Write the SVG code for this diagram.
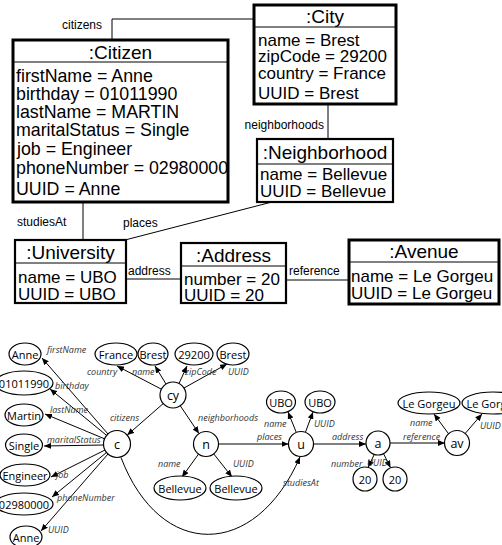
<svg xmlns="http://www.w3.org/2000/svg" width="502" height="545" viewBox="0 0 502 545">
<defs>
<style>
.box{fill:#fff;stroke:#000}
.thick{stroke-width:3}
.thin{stroke-width:2.2}
.sep{stroke:#000;stroke-width:1}
.t{font-family:"Liberation Sans",Arial,sans-serif;font-size:17px;fill:#000}
.tc{font-family:"Liberation Sans",Arial,sans-serif;font-size:17.8px;fill:#000}
.ti{font-family:"Liberation Sans",Arial,sans-serif;font-size:19px;fill:#000;text-anchor:middle}
.cl{font-family:"Liberation Sans",Arial,sans-serif;font-size:12px;fill:#000}
.conn{stroke:#000;stroke-width:1;fill:none}
.edge{stroke:#000;stroke-width:1;fill:none;marker-end:url(#arr)}
.node{fill:#fff;stroke:#000;stroke-width:1.2}
.val{fill:#fff;stroke:#000;stroke-width:1.2}
.nt{font-family:"Open Sans","Noto Sans",sans-serif;font-size:11px;fill:#000;text-anchor:middle;dominant-baseline:central}
.ct{font-family:"Open Sans","Noto Sans",sans-serif;font-size:12.5px;fill:#000;text-anchor:middle;dominant-baseline:central}
.el{font-family:"Open Sans","Noto Sans",sans-serif;font-size:9px;font-style:italic;fill:#333}
</style>
<marker id="arr" markerUnits="userSpaceOnUse" markerWidth="7" markerHeight="6" refX="7" refY="3" orient="auto">
<path d="M0,0 L7,3 L0,6 z" fill="#000"/>
</marker>
</defs>
<rect width="502" height="545" fill="#fff"/>

<g id="uml-connectors">
<polyline class="conn" points="254,19 112,19 112,40"/>
<text class="cl" x="62" y="29">citizens</text>
<line class="conn" x1="328" y1="104" x2="328" y2="139"/>
<text class="cl" x="324" y="129" text-anchor="end">neighborhoods</text>
<line class="conn" x1="83" y1="202" x2="83" y2="240"/>
<text class="cl" x="17" y="226">studiesAt</text>
<line class="conn" x1="125" y1="240" x2="272" y2="202"/>
<text class="cl" x="123" y="227">places</text>
<line class="conn" x1="126" y1="279" x2="181" y2="279"/>
<text class="cl" x="128" y="275">address</text>
<line class="conn" x1="286" y1="280" x2="349" y2="280"/>
<text class="cl" x="289" y="275">reference</text>
</g>

<g id="citizen">
<rect class="box thick" x="13" y="40" width="215" height="162"/>
<line class="sep" x1="13" y1="62" x2="228" y2="62"/>
<text class="ti" x="120.5" y="59">:Citizen</text>
<text class="tc" x="16" y="82">firstName = Anne</text>
<text class="tc" x="16" y="100">birthday = 01011990</text>
<text class="tc" x="16" y="118">lastName = MARTIN</text>
<text class="tc" x="16" y="136">maritalStatus = Single</text>
<text class="tc" x="17" y="155">job = Engineer</text>
<text class="tc" x="16" y="174">phoneNumber = 02980000</text>
<text class="tc" x="16" y="195">UUID = Anne</text>
</g>

<g id="city">
<rect class="box thick" x="254" y="5" width="142" height="99"/>
<line class="sep" x1="254" y1="27" x2="396" y2="27"/>
<text class="ti" x="325" y="23">:City</text>
<text class="t" x="258" y="45.5">name = Brest</text>
<text class="t" x="258" y="61.5">zipCode = 29200</text>
<text class="t" x="258" y="79">country = France</text>
<text class="t" x="258" y="99">UUID = Brest</text>
</g>

<g id="neighborhood">
<rect class="box thin" x="257" y="139" width="136" height="63"/>
<line class="sep" x1="257" y1="164" x2="393" y2="164"/>
<text class="ti" x="325" y="159">:Neighborhood</text>
<text class="t" x="260" y="180">name = Bellevue</text>
<text class="t" x="260" y="197">UUID = Bellevue</text>
</g>

<g id="university">
<rect class="box thin" x="15" y="240" width="111" height="63"/>
<line class="sep" x1="15" y1="263" x2="126" y2="263"/>
<text class="ti" x="70.5" y="259">:University</text>
<text class="t" x="18" y="283">name = UBO</text>
<text class="t" x="18" y="300">UUID = UBO</text>
</g>

<g id="address">
<rect class="box thin" x="181" y="243" width="105" height="60"/>
<line class="sep" x1="181" y1="266" x2="286" y2="266"/>
<text class="ti" x="233.5" y="262">:Address</text>
<text class="t" x="184" y="285">number = 20</text>
<text class="t" x="184" y="301">UUID = 20</text>
</g>

<g id="avenue">
<rect class="box thick" x="349" y="240" width="150" height="64"/>
<line class="sep" x1="349" y1="262" x2="499" y2="262"/>
<text class="ti" x="424" y="258">:Avenue</text>
<text class="t" x="351" y="282">name = Le Gorgeu</text>
<text class="t" x="351" y="299">UUID = Le Gorgeu</text>
</g>

<g id="graph-edges">
<line class="edge" x1="108" y1="434" x2="42" y2="358"/>
<line class="edge" x1="106.6" y1="435.4" x2="50" y2="389"/>
<line class="edge" x1="104.5" y1="438.8" x2="45" y2="414"/>
<line class="edge" x1="103.5" y1="445" x2="44" y2="446"/>
<line class="edge" x1="105" y1="450" x2="51" y2="477"/>
<line class="edge" x1="106.5" y1="452.5" x2="52" y2="497"/>
<line class="edge" x1="108" y1="454" x2="41" y2="531"/>
<line class="edge" x1="161.4" y1="389.2" x2="117" y2="366"/>
<line class="edge" x1="166" y1="384" x2="155" y2="366"/>
<line class="edge" x1="179" y1="383.5" x2="187" y2="366"/>
<line class="edge" x1="184" y1="388" x2="227" y2="364"/>
<line class="edge" x1="163.2" y1="403.6" x2="127.2" y2="435.1"/>
<line class="edge" x1="180.3" y1="405.8" x2="199" y2="433.6"/>
<line class="edge" x1="198.6" y1="454" x2="182" y2="477"/>
<line class="edge" x1="213.7" y1="453.8" x2="232" y2="477"/>
<line class="edge" x1="218.5" y1="444" x2="288.5" y2="444"/>
<path class="edge" d="M121,457.5 C160,560 255,560 300,457"/>
<line class="edge" x1="296.3" y1="432.4" x2="288" y2="412"/>
<line class="edge" x1="305.4" y1="432.3" x2="313" y2="412"/>
<line class="edge" x1="313.5" y1="444" x2="366" y2="444"/>
<line class="edge" x1="374.3" y1="454.4" x2="368" y2="467.5"/>
<line class="edge" x1="383.5" y1="453.6" x2="390.5" y2="467.7"/>
<line class="edge" x1="390" y1="443" x2="445" y2="443"/>
<line class="edge" x1="448.9" y1="434.2" x2="434" y2="414"/>
<line class="edge" x1="464.8" y1="433.9" x2="482" y2="414"/>
<text class="el" x="47" y="353">firstName</text>
<text class="el" x="55" y="389">birthday</text>
<text class="el" x="50" y="413">lastName</text>
<text class="el" x="47" y="443">maritalStatus</text>
<text class="el" x="56" y="478">job</text>
<text class="el" x="57" y="501">phoneNumber</text>
<text class="el" x="48" y="533">UUID</text>
<text class="el" x="87" y="375">country</text>
<text class="el" x="132" y="375">name</text>
<text class="el" x="185" y="375">zipCode</text>
<text class="el" x="228" y="375">UUID</text>
<text class="el" x="110" y="421">citizens</text>
<text class="el" x="198" y="421">neighborhoods</text>
<text class="el" x="158" y="467">name</text>
<text class="el" x="233" y="467">UUID</text>
<text class="el" x="257" y="440">places</text>
<text class="el" x="283" y="486">studiesAt</text>
<text class="el" x="264" y="427">name</text>
<text class="el" x="314" y="427">UUID</text>
<text class="el" x="332" y="440">address</text>
<text class="el" x="331" y="467">number</text>
<text class="el" x="367" y="466">UUID</text>
<text class="el" x="403" y="440">reference</text>
<text class="el" x="410" y="426">name</text>
<text class="el" x="480" y="429">UUID</text>
</g>

<g id="n-cy"><circle class="node" cx="173" cy="395" r="13"/><text class="ct" x="173" y="395">cy</text></g>
<g id="n-c"><circle class="node" cx="117" cy="444" r="13.5"/><text class="ct" x="117" y="444">c</text></g>
<g id="n-n"><circle class="node" cx="206" cy="444" r="12.5"/><text class="ct" x="206" y="444">n</text></g>
<g id="n-u"><circle class="node" cx="301" cy="444" r="12.5"/><text class="ct" x="301" y="444">u</text></g>
<g id="n-a"><circle class="node" cx="378" cy="443" r="12"/><text class="ct" x="378" y="443">a</text></g>
<g id="n-av"><circle class="node" cx="457" cy="443" r="12.5"/><text class="ct" x="457" y="443">av</text></g>

<g id="v-anne1"><ellipse class="val" cx="25" cy="354" rx="16" ry="11"/><text class="nt" x="25" y="354">Anne</text></g>
<g id="v-france"><ellipse class="val" cx="116" cy="354" rx="21" ry="11"/><text class="nt" x="116" y="354">France</text></g>
<g id="v-brest1"><ellipse class="val" cx="153" cy="354" rx="15" ry="11"/><text class="nt" x="153" y="354">Brest</text></g>
<g id="v-29200"><ellipse class="val" cx="194" cy="354" rx="19" ry="11"/><text class="nt" x="194" y="354">29200</text></g>
<g id="v-brest2"><ellipse class="val" cx="233" cy="354" rx="16" ry="11"/><text class="nt" x="233" y="354">Brest</text></g>
<g id="v-birthday"><ellipse class="val" cx="24" cy="383" rx="29" ry="12"/><text class="nt" x="24" y="383">01011990</text></g>
<g id="v-martin"><ellipse class="val" cx="24" cy="415" rx="19" ry="11"/><text class="nt" x="24" y="415">Martin</text></g>
<g id="v-single"><ellipse class="val" cx="24" cy="445" rx="18.5" ry="11"/><text class="nt" x="24" y="445">Single</text></g>
<g id="v-engineer"><ellipse class="val" cx="25" cy="475" rx="25" ry="11"/><text class="nt" x="25" y="475">Engineer</text></g>
<g id="v-phone"><ellipse class="val" cx="24" cy="504" rx="29" ry="11"/><text class="nt" x="24" y="504">02980000</text></g>
<g id="v-anne2"><ellipse class="val" cx="26" cy="537" rx="16" ry="11"/><text class="nt" x="26" y="537">Anne</text></g>
<g id="v-bellevue1"><ellipse class="val" cx="180" cy="488" rx="26" ry="12"/><text class="nt" x="180" y="488">Bellevue</text></g>
<g id="v-bellevue2"><ellipse class="val" cx="236" cy="488" rx="26" ry="12"/><text class="nt" x="236" y="488">Bellevue</text></g>
<g id="v-ubo1"><ellipse class="val" cx="281" cy="402" rx="14.5" ry="11"/><text class="nt" x="281" y="402">UBO</text></g>
<g id="v-ubo2"><ellipse class="val" cx="320" cy="402" rx="15" ry="11"/><text class="nt" x="320" y="402">UBO</text></g>
<g id="v-20a"><circle class="val" cx="365" cy="479" r="12"/><text class="nt" x="365" y="479">20</text></g>
<g id="v-20b"><circle class="val" cx="395" cy="479" r="12"/><text class="nt" x="395" y="479">20</text></g>
<g id="v-legorgeu1"><ellipse class="val" cx="429" cy="403" rx="31" ry="11"/><text class="nt" x="429" y="403">Le Gorgeu</text></g>
<g id="v-legorgeu2"><ellipse class="val" cx="493" cy="403" rx="31" ry="11"/><text class="nt" x="493" y="403">Le Gorgeu</text></g>
</svg>
